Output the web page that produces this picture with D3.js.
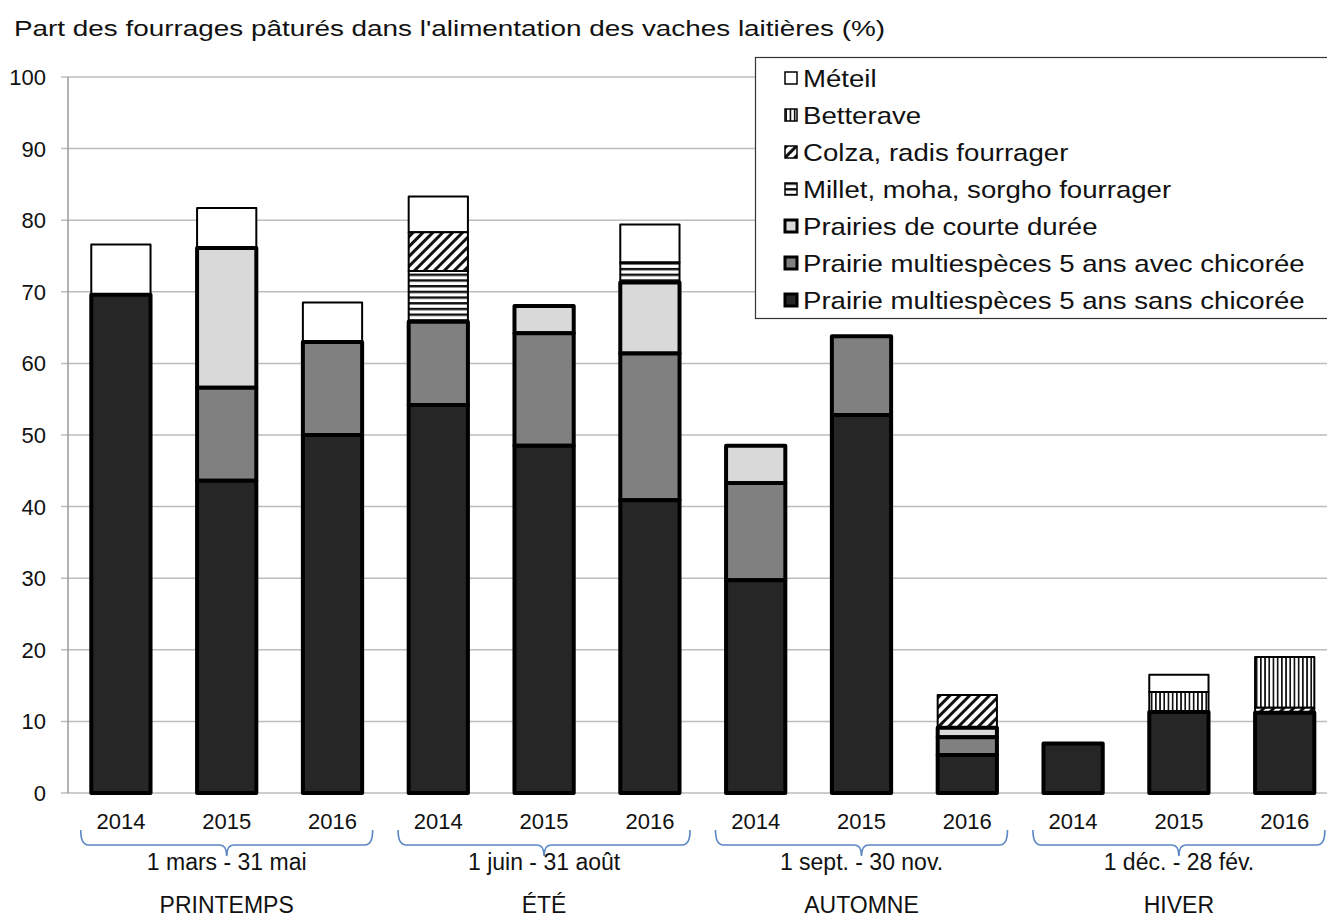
<!DOCTYPE html>
<html><head><meta charset="utf-8">
<script src="https://cdn.jsdelivr.net/npm/d3@7"></script>
<style>
html,body{margin:0;padding:0;background:#fff;}
svg text{font-family:"Liberation Sans",Arial,sans-serif;fill:#111;}
</style></head>
<body>
<svg id="chart" width="1327" height="917"></svg>
<script>
// ---- data ----
const years = ["2014","2015","2016","2014","2015","2016","2014","2015","2016","2014","2015","2016"];
const seasons = ["PRINTEMPS","ÉTÉ","AUTOMNE","HIVER"];
const periods = ["1 mars - 31 mai","1 juin - 31 août","1 sept. - 30 nov.","1 déc. - 28 fév."];
const yTicks = [0,10,20,30,40,50,60,70,80,90,100];

const sansChicoree = [69.6, 43.6, 50.0, 54.2, 48.5, 40.9, 29.7, 52.8, 5.3, 6.9, 11.3, 11.2];
const avecChicoree = [0, 13.0, 13.0, 11.6, 15.7, 20.5, 13.6, 11.0, 2.5, 0, 0, 0];
const courteDuree  = [0, 19.5, 0, 0, 3.8, 9.9, 5.2, 0, 1.3, 0, 0, 0];
const millet       = [0, 0, 0, 7.1, 0, 2.8, 0, 0, 0, 0, 0, 0];
const colza        = [0, 0, 0, 5.4, 0, 0, 0, 0, 4.6, 0, 0, 0.7];
const betterave    = [0, 0, 0, 0, 0, 0, 0, 0, 0, 0, 2.8, 7.1];
const meteil       = [7.0, 5.6, 5.5, 5.0, 0, 5.3, 0, 0, 0, 0, 2.4, 0];

const seriesNames = ["Prairie multiespèces 5 ans sans chicorée","Prairie multiespèces 5 ans avec chicorée",
  "Prairies de courte durée","Millet, moha, sorgho fourrager","Colza, radis fourrager","Betterave","Méteil"];
const seriesValues = [sansChicoree, avecChicoree, courteDuree, millet, colza, betterave, meteil];
const seriesFill = ["#262626","#808080","#d9d9d9","url(#pMillet)","url(#pColza)","url(#pBett)","#ffffff"];
const seriesThick = [true,true,true,false,false,false,false];

// ---- build table ----
const keys = seriesNames.map((d,i)=>"s"+i);
const table = years.map((y,i)=>{ const o={idx:i}; keys.forEach((k,j)=>o[k]=seriesValues[j][i]); return o; });
const stacked = d3.stack().keys(keys)(table);

const svg = d3.select("#chart");
const defs = svg.append("defs");
// patterns
const pB = defs.append("pattern").attr("id","pBett").attr("patternUnits","userSpaceOnUse").attr("width",4.2).attr("height",4.2);
pB.append("rect").attr("width",4.2).attr("height",4.2).attr("fill","#fff");
pB.append("rect").attr("x",0).attr("width",1.7).attr("height",4.2).attr("fill","#111");
const pC = defs.append("pattern").attr("id","pColza").attr("patternUnits","userSpaceOnUse").attr("width",7).attr("height",7).attr("patternTransform","rotate(45)");
pC.append("rect").attr("width",7).attr("height",7).attr("fill","#fff");
pC.append("rect").attr("x",0).attr("width",3).attr("height",7).attr("fill","#111");
const pM = defs.append("pattern").attr("id","pMillet").attr("patternUnits","userSpaceOnUse").attr("width",6).attr("height",5.7);
pM.append("rect").attr("width",6).attr("height",5.7).attr("fill","#fff");
pM.append("rect").attr("y",0).attr("width",6).attr("height",2.4).attr("fill","#111");

// ---- scales ----
const x0 = 68, step = 105.8;
const x = d3.scaleBand().domain(d3.range(years.length)).range([x0, x0 + step*years.length]).paddingInner(0.44).paddingOuter(0.22);
const y = d3.scaleLinear().domain([0,100]).range([793,77]);

// gridlines
svg.append("g").selectAll("line").data(yTicks).join("line")
  .attr("x1",61).attr("x2",1327).attr("y1",d=>y(d)).attr("y2",d=>y(d))
  .attr("stroke","#bdbdbd").attr("stroke-width",1.5);
// y axis line
svg.append("line").attr("x1",x0).attr("x2",x0).attr("y1",y(100)).attr("y2",y(0)).attr("stroke","#9a9a9a").attr("stroke-width",1.5);
// y tick labels
svg.append("g").selectAll("text").data(yTicks).join("text")
  .attr("x",46).attr("y",d=>y(d)).attr("dy","0.36em").attr("text-anchor","end")
  .style("font-size","22px").text(d=>d);

// bars: thin layers first, thick last
const order = [6,5,4,3,2,1,0];
order.forEach(si=>{
  svg.append("g").selectAll("rect").data(stacked[si].filter(d=>d[1]-d[0]>0)).join("rect")
    .attr("x",d=>x(d.data.idx)).attr("width",x.bandwidth())
    .attr("y",d=>y(d[1])).attr("height",d=>y(d[0])-y(d[1]))
    .attr("fill",seriesFill[si]).attr("stroke","#000")
    .attr("stroke-width",seriesThick[si]?4:2).attr("stroke-linejoin","round");
});

// year labels
svg.append("g").selectAll("text").data(years).join("text")
  .attr("x",(d,i)=>x(i)+x.bandwidth()/2).attr("y",821).attr("dy","0.36em").attr("text-anchor","middle")
  .style("font-size","22px").text(d=>d);

// brackets & group labels
const groups = d3.range(4).map(g=>({g, c:(x(g*3)+x(g*3+2)+x.bandwidth())/2}));
const bg = svg.append("g");
groups.forEach(o=>{
  const c=o.c, a=c-146, b=c+146, t=830, m=845, k=856;
  const p = `M${a},${t} Q${a},${m} ${a+8},${m} L${c-7},${m} Q${c},${m} ${c},${k} Q${c},${m} ${c+7},${m} L${b-8},${m} Q${b},${m} ${b},${t}`;
  bg.append("path").attr("d",p).attr("fill","none").attr("stroke","#5b87c5").attr("stroke-width",1.6);
});
svg.append("g").selectAll("text").data(periods).join("text")
  .attr("x",(d,i)=>groups[i].c).attr("y",862).attr("dy","0.36em").attr("text-anchor","middle")
  .style("font-size","23px").text(d=>d);
svg.append("g").selectAll("text").data(seasons).join("text")
  .attr("x",(d,i)=>groups[i].c).attr("y",905).attr("dy","0.36em").attr("text-anchor","middle")
  .style("font-size","23px").text(d=>d);

// title
svg.append("text").attr("x",14).attr("y",36).style("font-size","22px")
  .attr("textLength",871).attr("lengthAdjust","spacingAndGlyphs")
  .text("Part des fourrages pâturés dans l'alimentation des vaches laitières (%)");

// legend
const lg = svg.append("g");
lg.append("rect").attr("x",755.5).attr("y",57.5).attr("width",600).attr("height",261).attr("fill","#fff").attr("stroke","#333").attr("stroke-width",1.2);
const legOrder = [6,5,4,3,2,1,0];
legOrder.forEach((si,r)=>{
  const cy = 78 + r*37;
  lg.append("rect").attr("x",785).attr("y",cy-6).attr("width",12).attr("height",12)
    .attr("fill",seriesFill[si]).attr("stroke","#000").attr("stroke-width",seriesThick[si]?3:1.5);
  lg.append("text").attr("transform",`translate(803,${cy}) scale(1.15,1)`).attr("dy","0.36em")
    .style("font-size","24px").text(seriesNames[si]);
});
</script>
</body></html>
